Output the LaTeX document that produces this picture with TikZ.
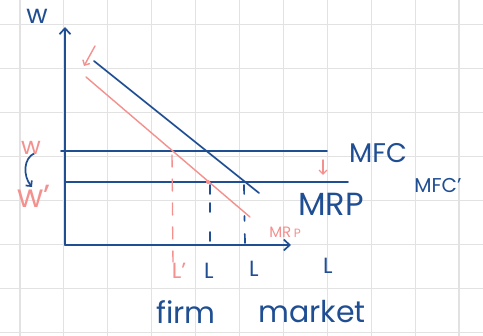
\documentclass[tikz,border=0pt]{standalone}
\usepackage{fontspec}
\setmainfont{Poppins}
\usetikzlibrary{arrows.meta}
\definecolor{ink}{HTML}{1F4E93}
\definecolor{rose}{HTML}{F4908E}
\definecolor{gridc}{HTML}{E2E2E2}
\tikzset{
  blueline/.style={draw=ink, line width=1.7pt, line cap=round},
  pinkline/.style={draw=rose, line width=1.4pt, line cap=round},
  gridline/.style={draw=gridc, line width=1.1pt},
  vtip/.style={-{Straight Barb[length=6pt,width=11pt,line width=1.7pt]}},
  smalltip/.style={-{Straight Barb[length=4pt,width=8pt]}},
  bluetext/.style={text=ink, inner sep=0pt, anchor=center},
  pinktext/.style={text=rose, inner sep=0pt, anchor=center},
}
\newcommand{\fs}[1]{\fontsize{#1}{#1}\selectfont}
\begin{document}
\begin{tikzpicture}[x=1pt,y=-1pt]
  \useasboundingbox (0,0) rectangle (483,336);
  \fill[white] (0,0) rectangle (483,336);
  % grid
  \foreach \i in {0,...,10} { \draw[gridline] ({20+43.9*\i},0) -- ({20+43.9*\i},336); }
  \foreach \j in {0,...,7} { \draw[gridline] (0,{24.6+43.95*\j}) -- (483,{24.6+43.95*\j}); }

  % axes
  \coordinate (O) at (65,245);
  \coordinate (Ytop) at (65,27);
  \coordinate (Xend) at (291,245);
  \draw[blueline, vtip] (O) -- (Ytop);
  \draw[blueline, vtip] (O) -- (Xend);

  % MFC lines
  \coordinate (mfcL) at (61,151);
  \coordinate (mfcR) at (327,151);
  \coordinate (mfcbL) at (65,182);
  \coordinate (mfcbR) at (348,182);
  \draw[blueline] (mfcL) -- (mfcR);
  \draw[blueline] (mfcbL) -- (mfcbR);

  % MRP lines
  \coordinate (mrpA) at (94,61);
  \coordinate (mrpB) at (259,193);
  \draw[blueline] (mrpA) -- (mrpB);
  \coordinate (mrpPA) at (86,77);
  \coordinate (mrpPB) at (250,217);
  \draw[pinkline] (mrpPA) -- (mrpPB);
  \fill[rose] (208,182) circle (2pt);

  % dashed verticals
  \coordinate (d1t) at (210,185);
  \coordinate (d1b) at (210,244);
  \draw[blueline, dash pattern=on 9pt off 9pt on 9pt off 20pt] (d1t) -- (d1b);
  \coordinate (d2t) at (244,185);
  \coordinate (d2b) at (245,244);
  \draw[blueline, dash pattern=on 9pt off 22pt on 5pt off 13pt] (d2t) -- (d2b);
  \coordinate (d3t) at (172,155);
  \coordinate (d3b) at (173,262);
  \draw[pinkline, dash pattern=on 12pt off 12pt] (d3t) -- (d3b);

  % arrows
  \coordinate (pa1) at (95,46);
  \coordinate (pa2) at (84,66);
  \draw[pinkline, smalltip] (pa1) -- (pa2);
  \coordinate (pb1) at (323,160);
  \coordinate (pb2) at (323,175);
  \draw[pinkline, smalltip] (pb1) -- (pb2);
  \coordinate (ca1) at (35,153);
  \coordinate (ca2) at (32,187);
  \draw[blueline, smalltip] (ca1) .. controls (23,158) and (23,176) .. (ca2);

  % labels
  \node[bluetext] (w) at (37,16) {\fs{26}w};
  \node[pinktext] (wp) at (31,148) {\fs{24}w};
  \node[pinktext] (wpp) at (34,196) {\fs{32}w'};
  \node[bluetext] (mfc) at (378,153) {\fs{27}MFC};
  \node[bluetext] (mfcp) at (438,186) {\fs{20}MFC'};
  \node[bluetext] (mrp) at (331,204) {\fs{32}MRP};
  \node[pinktext] (mrpp) at (285,232) {\fs{15}MR\,\fs{12}P};
  \node[pinktext] (lp) at (179,271) {\fs{22}L'};
  \node[bluetext] (l1) at (209,271) {\fs{22}L};
  \node[bluetext] (l2) at (254,269) {\fs{22}L};
  \node[bluetext] (l3) at (328,266) {\fs{22}L};
  \node[bluetext] (firm) at (186,312) {\fs{30}firm};
  \node[bluetext] (market) at (312,312) {\fs{30}market};
\end{tikzpicture}
\end{document}
